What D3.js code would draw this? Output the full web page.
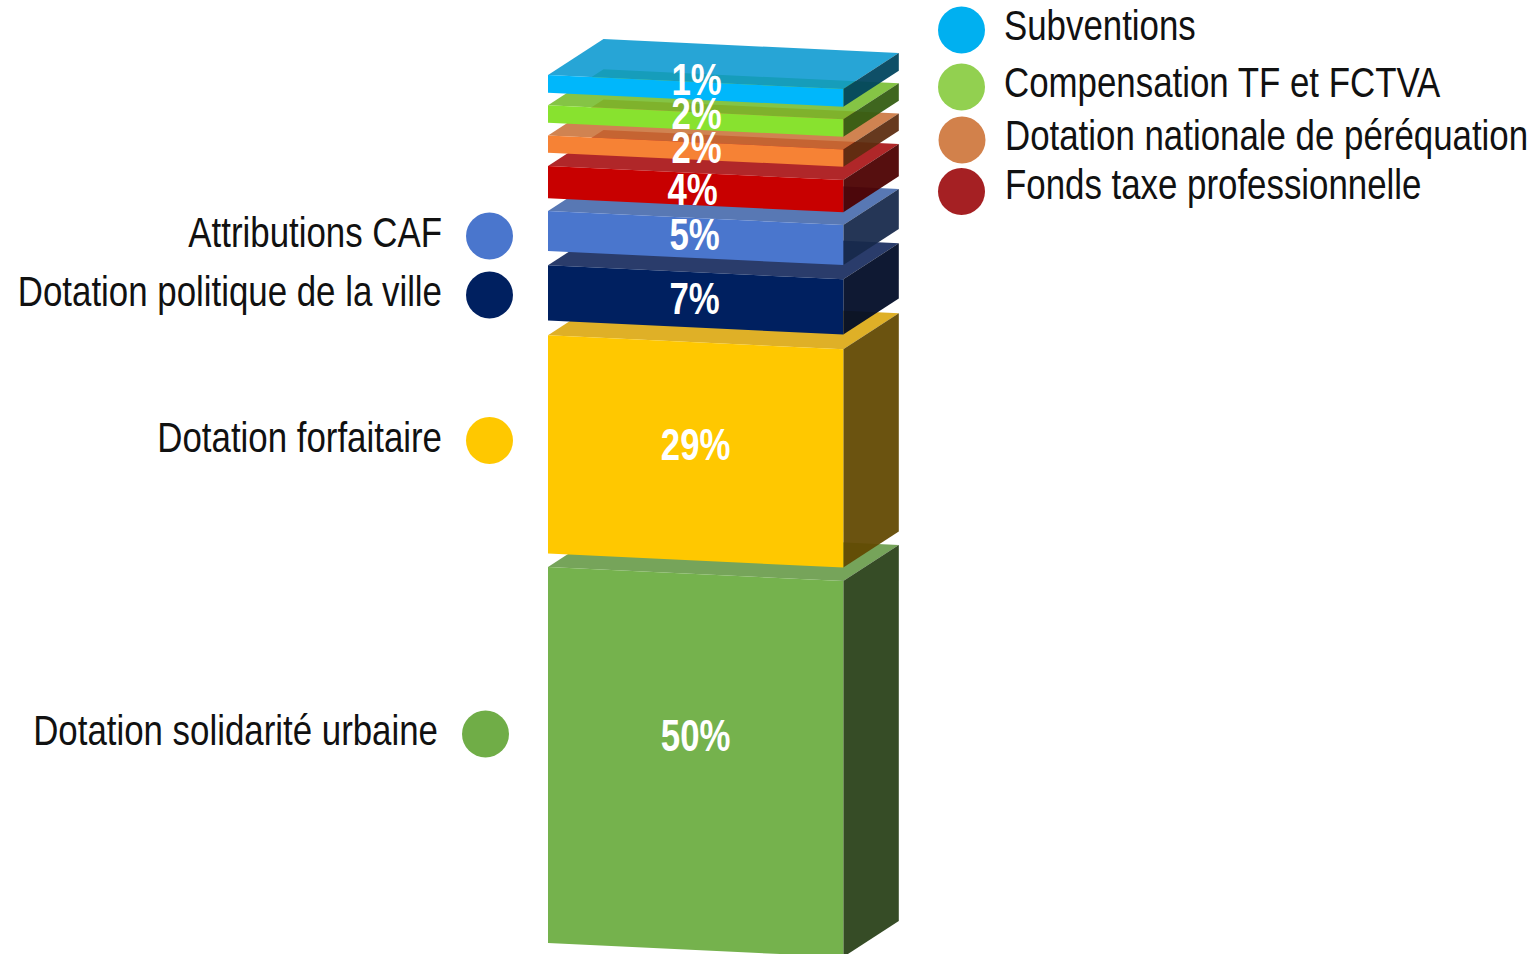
<!DOCTYPE html>
<html>
<head>
  <meta charset="utf-8">
  <title>Dotations</title>
  <script src="https://d3js.org/d3.v7.min.js"></script>
  <style>
    html, body { margin: 0; padding: 0; background: #fff; overflow: hidden; }
    svg { display: block; }
    text { font-family: "Liberation Sans", sans-serif; }
    .name { font-size: 42px; fill: #111; }
    .pct { font-size: 44px; font-weight: bold; fill: #fff; text-anchor: middle; }
  </style>
</head>
<body>
  <svg id="chart" width="1535" height="954"></svg>
  <script>
    // bottom to top, as stacked
    var categories = ["Dotation solidarité urbaine", "Dotation forfaitaire", "Dotation politique de la ville", "Attributions CAF",
                      "Fonds taxe professionnelle", "Dotation nationale de péréquation", "Compensation TF et FCTVA", "Subventions"];
    var pctLabels = ["50%", "29%", "7%", "5%", "4%", "2%", "2%", "1%"];
    // drawn heights of the slabs
    var heights = [50.13, 29.1, 7.37, 5.33, 4.31, 2.31, 2.31, 2.35];
    var frontColors = ["#75b24d", "#ffc800", "#002060", "#4a76cd", "#c80000", "#f68235", "#88e22f", "#00b7fb"];
    var topColors = ["#76a45a", "#dfb027", "#2a3c6b", "#5878b4", "#b02629", "#d08350", "#85c444", "#27a5d6"];
    var sideColors = ["#364c26", "#6b5310", "#0f1a33", "#253656", "#560c0c", "#663a1e", "#3f661f", "#0c4f68"];
    var dotColors = ["#70ad47", "#ffc800", "#002060", "#4a76cd", "#a52023", "#d2814b", "#92d050", "#00b0f0"];

    // layout
    var gaps = [13.5, 14.7, 14.3, 12.7, 13.3, 12.7, 12.7, 0];
    var depth = {x: 55.5, y: -36};
    var slope = 14;
    var topAlpha = 0.86;
    var sideAlpha = 0.94;
    var baseY = 943;
    // no narrow font installed, so the text is squeezed sideways
    var nameSqueeze = 0.83;
    var pctSqueeze = 0.79;
    // hand placed names: [anchor x, baseline y, dot x, dot y]
    var nameSpots = [[438, 745, 485.5, 734], [442, 452, 489.5, 440.5], [442, 306, 489.5, 295], [442, 247, 489.5, 236],
                     [1005, 199, 961.5, 191.5], [1005, 150, 962, 140], [1004, 97, 961.5, 87], [1004, 40, 961.5, 30]];
    var pctNudge = [[0, -26], [0, -7], [-1, -1.5], [-1, -3], [-3, 0], [1, -3.7], [1, -7.7], [1, -11.5]];

    var svg = d3.select("#chart");
    var x = d3.scaleLinear().domain([0, 1]).range([548, 843.3]);
    var h = d3.scaleLinear().domain([0, 1]).range([0, 7.5]);

    // slab stack: bottom/top of the front face on its left edge
    var stackY = baseY;
    var slabs = heights.map(function(v, i) {
      var s = {i: i, bottom: stackY, top: stackY - h(v)};
      stackY = s.top - gaps[i];
      return s;
    });

    // colour that gives the wanted shade over white at the given alpha
    function seeThrough(c, a) {
      var o = d3.rgb(c);
      var f = function(k) { return Math.max(0, (k - 255 * (1 - a)) / a); };
      return d3.rgb(f(o.r), f(o.g), f(o.b)).formatRgb();
    }
    function pt(t, y, back) {
      var px = x(t) + (back ? depth.x : 0);
      var py = y + slope * t + (back ? depth.y : 0);
      return px + "," + py;
    }
    function place(px, py, k) {
      return "translate(" + px + "," + py + ") scale(" + k + ",1)";
    }

    var slab = svg.selectAll("g.slab").data(slabs).enter().append("g").attr("class", "slab");

    slab.append("polygon")
      .attr("points", d => [pt(0, d.top), pt(0, d.top, true), pt(1, d.top, true), pt(1, d.top)].join(" "))
      .attr("fill", d => seeThrough(topColors[d.i], topAlpha))
      .attr("fill-opacity", topAlpha);

    slab.append("polygon")
      .attr("points", d => [pt(1, d.top), pt(1, d.top, true), pt(1, d.bottom, true), pt(1, d.bottom)].join(" "))
      .attr("fill", d => seeThrough(sideColors[d.i], sideAlpha))
      .attr("fill-opacity", sideAlpha);

    slab.append("polygon")
      .attr("points", d => [pt(0, d.top), pt(1, d.top), pt(1, d.bottom), pt(0, d.bottom)].join(" "))
      .attr("fill", d => frontColors[d.i]);

    // percentages go on after all slabs so nothing covers them
    svg.selectAll("text.pct").data(slabs).enter().append("text")
      .attr("class", "pct")
      .attr("transform", d => place(x(0.5) + pctNudge[d.i][0], (d.top + d.bottom) / 2 + slope / 2 + pctNudge[d.i][1], pctSqueeze))
      .attr("dy", "0.35em")
      .text(d => pctLabels[d.i]);

    // names with their dots
    var names = svg.selectAll("g.item").data(categories).enter().append("g").attr("class", "item");
    names.append("circle")
      .attr("cx", (d, i) => nameSpots[i][2])
      .attr("cy", (d, i) => nameSpots[i][3])
      .attr("r", 23.5)
      .attr("fill", (d, i) => dotColors[i]);
    names.append("text")
      .attr("class", "name")
      .attr("transform", (d, i) => place(nameSpots[i][0], nameSpots[i][1], nameSqueeze))
      .attr("text-anchor", (d, i) => i < 4 ? "end" : "start")
      .text(d => d);
  </script>
</body>
</html>
